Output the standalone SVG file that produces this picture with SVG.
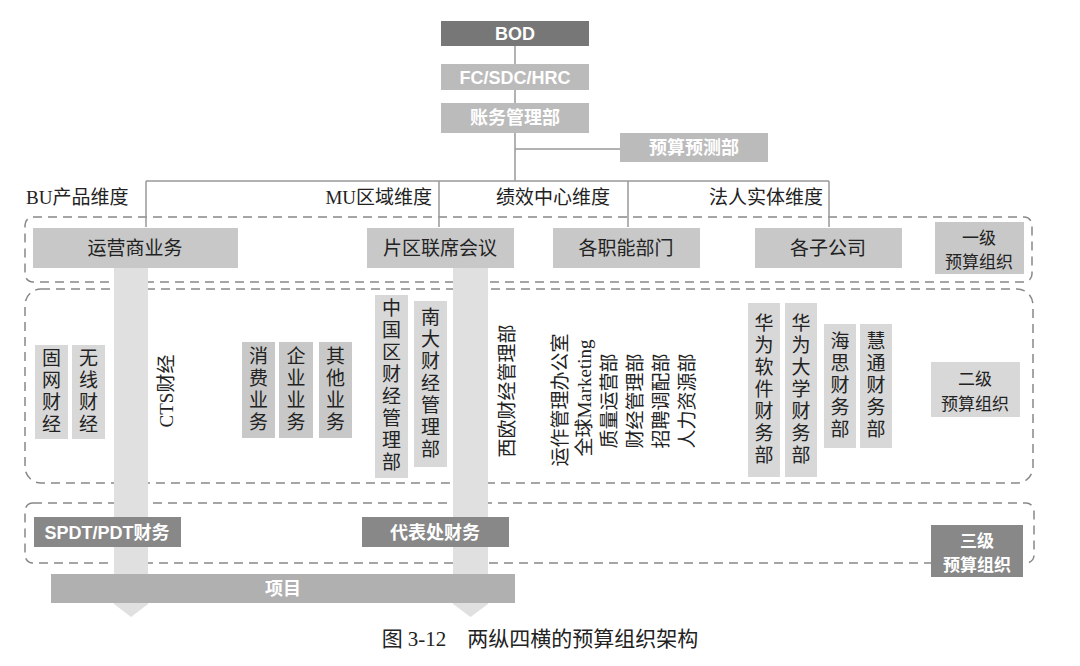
<svg xmlns="http://www.w3.org/2000/svg" width="1080" height="666" viewBox="0 0 1080 666">
<style>
text{font-family:"Noto Sans CJK SC","Liberation Sans",sans-serif;}
.w{fill:#fff;font-weight:bold;font-size:18px;text-anchor:middle;font-family:"Liberation Sans","Noto Sans CJK SC",sans-serif}
.d{fill:#222;font-size:19px;text-anchor:middle}
.t{fill:#222;font-size:17px;text-anchor:middle}
.tw{fill:#fff;font-weight:bold;font-size:17px;text-anchor:middle}
.v{fill:#222;font-size:19px;writing-mode:vertical-rl;text-anchor:middle;letter-spacing:3px}
.r{fill:#222;font-size:19px;text-anchor:middle;font-family:"Liberation Serif","Noto Sans CJK SC",serif}
.lbl{fill:#222;font-size:19px;font-family:"Liberation Serif","Noto Sans CJK SC",serif}
.dash{fill:none;stroke:#888;stroke-width:1.5;stroke-dasharray:9 6}
.ln{stroke:#999;stroke-width:1.5;fill:none}
.b1{fill:#c8c8c8}
.b2{fill:#d8d8d8}
.b3{fill:#888}
.bar{fill:#e0e0e0}
</style>
<rect width="1080" height="666" fill="#fff"/>
<g id="levels">
<rect class="dash" x="25" y="217" width="1007" height="65" rx="8"/>
<rect class="dash" x="25" y="289" width="1008" height="194" rx="16"/>
<rect class="dash" x="25" y="503" width="1009" height="60" rx="8"/>
</g>
<g id="bars">
<rect class="bar" x="114" y="268" width="34" height="336"/>
<polygon class="bar" points="114,604 148,604 131,617"/>
<rect class="bar" x="453" y="268" width="35" height="336"/>
<polygon class="bar" points="453,604 488,604 470.5,617"/>
</g>
<g id="connectors">
<path class="ln" d="M515 46V181M515 149H620M146 181H829M146 181V227M439 181V227M628 181V227M829 181V227"/>
</g>
<g id="bod"><rect x="441" y="21" width="148" height="25" fill="#777"/><text class="w" x="515" y="40">BOD</text></g>
<g id="fc"><rect x="441" y="64" width="148" height="26" fill="#bbb"/><text class="w" x="515" y="84">FC/SDC/HRC</text></g>
<g id="zw"><rect x="441" y="103" width="148" height="30" fill="#bbb"/><text class="w" x="515" y="124">账务管理部</text></g>
<g id="ys"><rect x="620" y="133" width="148" height="29" fill="#bbb"/><text class="w" x="694" y="154">预算预测部</text></g>
<g id="dims">
<text class="lbl" x="26" y="204">BU产品维度</text>
<text class="lbl" x="432" y="204" text-anchor="end">MU区域维度</text>
<text class="lbl" x="496" y="204">绩效中心维度</text>
<text class="lbl" x="823" y="204" text-anchor="end">法人实体维度</text>
</g>
<g id="l1">
<rect class="b1" x="33" y="228" width="205" height="40"/><text class="d" x="135" y="255">运营商业务</text>
<rect class="b1" x="367" y="228" width="147" height="40"/><text class="d" x="440" y="255">片区联席会议</text>
<rect class="b1" x="553" y="228" width="147" height="40"/><text class="d" x="626" y="255">各职能部门</text>
<rect class="b1" x="755" y="228" width="147" height="40"/><text class="d" x="828" y="255">各子公司</text>
<rect class="b1" x="935" y="222" width="89" height="52"/><text class="t" x="979" y="244">一级</text><text class="t" x="979" y="268">预算组织</text>
</g>
<g id="l2">
<rect class="b2" x="35" y="345" width="33" height="94"/><text class="v" x="51.5" y="392">固网财经</text>
<rect class="b2" x="72" y="345" width="33" height="94"/><text class="v" x="88.5" y="392">无线财经</text>
<text class="r" transform="translate(173,391) rotate(-90)">CTS财经</text>
<rect class="b1" x="242" y="342" width="33" height="96"/><text class="v" x="258.5" y="390">消费业务</text>
<rect class="b1" x="279" y="342" width="34" height="96"/><text class="v" x="296" y="390">企业业务</text>
<rect class="b1" x="319" y="342" width="33" height="96"/><text class="v" x="335.5" y="390">其他业务</text>
<rect class="b2" x="375" y="295" width="33" height="183"/><text class="v" x="391.5" y="386.5">中国区财经管理部</text>
<rect class="b2" x="414" y="301" width="33" height="166"/><text class="v" x="430.5" y="384">南大财经管理部</text>
<text class="r" transform="translate(514,391) rotate(-90)">西欧财经管理部</text>
<text class="r" transform="translate(567,400) rotate(-90)">运作管理办公室</text>
<text class="r" transform="translate(591,398) rotate(-90)">全球Marketing</text>
<text class="r" transform="translate(616,401) rotate(-90)">质量运营部</text>
<text class="r" transform="translate(642,401) rotate(-90)">财经管理部</text>
<text class="r" transform="translate(668,401) rotate(-90)">招聘调配部</text>
<text class="r" transform="translate(694,401) rotate(-90)">人力资源部</text>
<rect class="b2" x="748" y="303" width="32" height="174"/><text class="v" x="764" y="390">华为软件财务部</text>
<rect class="b2" x="785" y="303" width="32" height="174"/><text class="v" x="801" y="390">华为大学财务部</text>
<rect class="b2" x="824" y="324" width="32" height="124"/><text class="v" x="840" y="386">海思财务部</text>
<rect class="b2" x="860" y="324" width="32" height="124"/><text class="v" x="876" y="386">慧通财务部</text>
<rect class="b2" x="931" y="362" width="89" height="55"/><text class="t" x="975" y="385">二级</text><text class="t" x="975" y="410">预算组织</text>
</g>
<g id="l3">
<rect class="b3" x="34" y="517" width="147" height="30"/><text class="w" x="107" y="539">SPDT/PDT财务</text>
<rect class="b3" x="362" y="517" width="147" height="30"/><text class="w" x="435" y="539">代表处财务</text>
<rect class="b3" x="931" y="525" width="92" height="52"/><text class="tw" x="977" y="547">三级</text><text class="tw" x="977" y="571">预算组织</text>
</g>
<g id="proj"><rect x="51" y="574" width="464" height="29" fill="#b0b0b0"/><text class="w" x="283" y="595">项目</text></g>
<text x="540" y="646" text-anchor="middle" style="font-family:'Liberation Serif','Noto Sans CJK SC',serif;font-size:21px;fill:#222">图 3-12　两纵四横的预算组织架构</text>
</svg>
